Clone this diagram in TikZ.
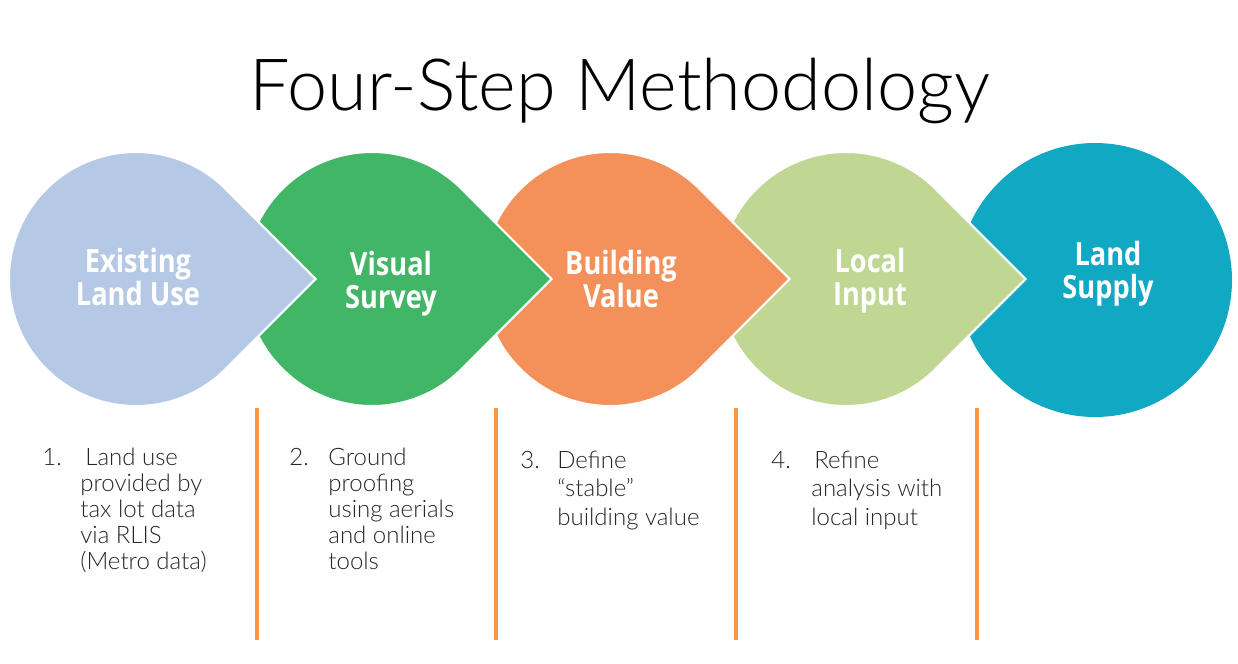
\documentclass[tikz,border=0pt]{standalone}
\usepackage{fontspec}
\setmainfont{Lato}
\newfontfamily\lightfont{Lato Light}
\newfontfamily\labelfont{Open Sans}[FakeStretch=0.85]
\usepackage{tikz}
\definecolor{StepBlue}{HTML}{B5C9E6}
\definecolor{StepGreen}{HTML}{41B666}
\definecolor{StepOrange}{HTML}{F4915B}
\definecolor{StepLime}{HTML}{BFD793}
\definecolor{StepTeal}{HTML}{11A8C4}
\definecolor{RuleOrange}{HTML}{F79646}

\begin{document}
\begin{tikzpicture}[x=0.5pt,y=0.5pt,
  drop/.style={draw=white,line width=1pt},
  shapelabel/.style={text=white,font=\labelfont\bfseries\fontsize{16}{16.5}\selectfont,align=center,inner sep=0pt,anchor=base},
  divider/.style={draw=RuleOrange,line width=2pt},
  stepnum/.style={font=\lightfont\fontsize{12}{13}\selectfont,anchor=base west,inner sep=0pt,text=black!85},
  steptext/.style={stepnum,align=left}
]
\useasboundingbox (0,0) rectangle (1238,-664);
\fill[white] (0,0) rectangle (1238,-664);
\node[font=\lightfont\fontsize{36}{40}\selectfont,anchor=base] (title) at (620,-110) {Four-Step Methodology};
% land supply circle at the back
\fill[StepTeal] (1095,-280) circle[radius=137];
% teardrops, right to left so each tip lies over the next shape
\foreach \cx/\col in {846/StepLime,610/StepOrange,372/StepGreen,136/StepBlue}
  \filldraw[drop,fill=\col] (\cx,-279) ++(45:127) arc[start angle=45,end angle=315,radius=127] -- (\cx+179.6,-279) -- cycle;
% labels sit on the baseline of their second line
\node[shapelabel] (existing) at (138,-305) {Existing\\Land Use};
\node[shapelabel] (visual) at (391,-308) {Visual\\Survey};
\node[shapelabel] (building) at (621,-307) {Building\\Value};
\node[shapelabel] (local) at (870,-305) {Local\\Input};
\node[shapelabel] (supply) at (1108,-298) {Land\\Supply};
% orange dividers
\foreach \lx in {257,496,736,977}
  \draw[divider] (\lx,-408) -- (\lx,-640);
% step descriptions, text nodes sit on their last baseline
\node[stepnum] (num1) at (42,-465) {1.};
\node[steptext] (step1) at (80,-569) {\hspace*{2.5pt}Land use\\provided by\\tax lot data\\via RLIS\\(Metro data)};
\node[stepnum] (num2) at (289,-465) {2.};
\node[steptext] (step2) at (328,-569) {Ground\\proofing\\using aerials\\and online\\tools};
\node[stepnum] (num3) at (520,-468) {3.};
\node[steptext,font=\lightfont\fontsize{12}{14.25}\selectfont] (step3) at (557,-525) {Define\\“stable”\\building value};
\node[stepnum] (num4) at (771,-468) {4.};
\node[steptext,font=\lightfont\fontsize{12}{14.25}\selectfont] (step4) at (811,-525) {\hspace*{1.5pt}Refine\\analysis with\\local input};
\end{tikzpicture}
\end{document}
